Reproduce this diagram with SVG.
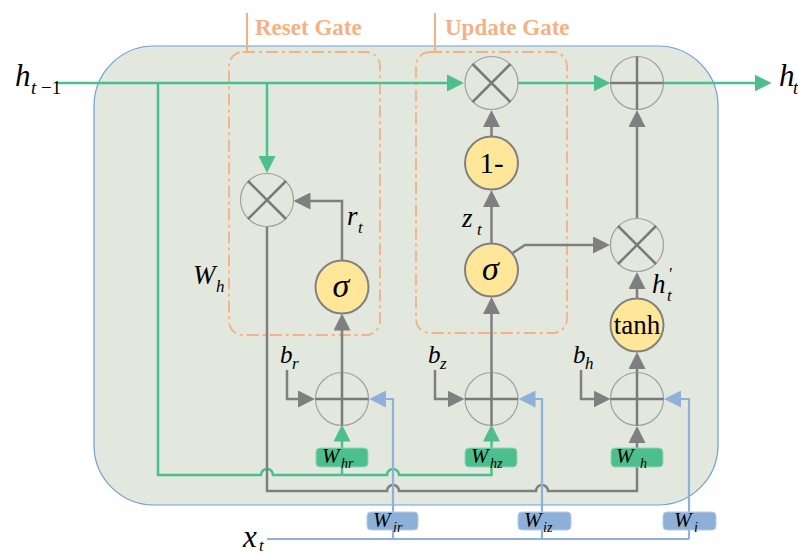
<svg xmlns="http://www.w3.org/2000/svg" width="798" height="554" viewBox="0 0 798 554">
<defs>
<style>
text{font-family:'Liberation Serif','DejaVu Serif',serif;fill:#000}
.i{font-style:italic}
.gl{fill:none;stroke:#4cbf8c;stroke-width:2.5}
.gy{fill:none;stroke:#7f7f7f;stroke-width:2.5}
.bl{fill:none;stroke:#8fb0d9;stroke-width:2.2}
.op{fill:none;stroke:#a0a0a0;stroke-width:1.2}
.x{stroke:#7a7a7a;stroke-width:2.5}
.fn{fill:#ffe699;stroke:#808080;stroke-width:2}
.gb{fill:none;stroke:#f4b183;stroke-width:1.8;stroke-dasharray:12 4 3 4}
.wg{fill:#4cbf8c;stroke:#93d6b3;stroke-width:1}
.wb{fill:#8eb0d8;stroke:#b4cbe6;stroke-width:1}
.gt{font-size:23px;font-weight:bold;fill:#f4b183}
.wl{font-size:21px;font-style:italic}
.ws{font-size:14px;font-style:italic}
</style>
<marker id="ag" markerUnits="userSpaceOnUse" markerWidth="17" markerHeight="17" refX="0.5" refY="8.5" orient="auto"><path d="M0,0 L17,8.5 L0,17 z" fill="#4cbf8c"/></marker>
<marker id="ay" markerUnits="userSpaceOnUse" markerWidth="17" markerHeight="17" refX="0.5" refY="8.5" orient="auto"><path d="M0,0 L17,8.5 L0,17 z" fill="#7f7f7f"/></marker>
<marker id="ab" markerUnits="userSpaceOnUse" markerWidth="17" markerHeight="17" refX="0.5" refY="8.5" orient="auto"><path d="M0,0 L17,8.5 L0,17 z" fill="#8fb0d9"/></marker>
</defs>

<rect x="0" y="0" width="798" height="554" fill="#ffffff"/>
<rect id="cell" x="94" y="46" width="624" height="459" rx="60" fill="#e3e8df" stroke="#6f9fd6" stroke-width="1.2"/>

<g id="reset-gate">
<rect class="gb" x="229" y="52" width="151" height="283" rx="14"/>
<line x1="247" y1="13" x2="247" y2="52" stroke="#f4b183" stroke-width="2"/>
<text class="gt" x="255" y="35">Reset Gate</text>
</g>
<g id="update-gate">
<rect class="gb" x="416" y="52" width="151" height="281" rx="14"/>
<line x1="435" y1="13" x2="435" y2="52" stroke="#f4b183" stroke-width="2"/>
<text class="gt" x="445" y="35">Update Gate</text>
</g>

<g id="connectors">
<path class="gl" d="M56,83 H447.5" marker-end="url(#ag)"/>
<path class="gl" d="M518,83 H594" marker-end="url(#ag)"/>
<path class="gl" d="M663.5,83 H755" marker-end="url(#ag)"/>
<path class="gl" d="M267,83 V156.5" marker-end="url(#ag)"/>
<path class="gl" d="M158,83 V475 H261 a6,6 0 0 1 12,0 H387 a6,6 0 0 1 12,0 H491.5 V467"/>
<path class="gl" d="M342,475 V467"/>
<path class="gl" d="M342,448 V441" marker-end="url(#ag)"/>
<path class="gl" d="M491.5,448 V441" marker-end="url(#ag)"/>
<path class="gy" d="M342,260.5 V201 H310" marker-end="url(#ay)"/>
<path class="gy" d="M342,372.5 V330" marker-end="url(#ay)"/>
<path class="gy" d="M267,226.5 V491 H387 a6,6 0 0 1 12,0 H536 a6,6 0 0 1 12,0 H637 V467"/>
<path class="gy" d="M287,370 V399 H298.5" marker-end="url(#ay)"/>
<path class="gy" d="M435,370 V399 H448" marker-end="url(#ay)"/>
<path class="gy" d="M491.5,372.5 V313.5" marker-end="url(#ay)"/>
<path class="gy" d="M491.5,243.5 V206.5" marker-end="url(#ay)"/>
<path class="gy" d="M491.5,136.5 V126.5" marker-end="url(#ay)"/>
<path class="gy" d="M511,254 L525,245 H593.5" marker-end="url(#ay)"/>
<path class="gy" d="M637,298.5 V288.5" marker-end="url(#ay)"/>
<path class="gy" d="M637,218.5 V126.5" marker-end="url(#ay)"/>
<path class="gy" d="M637,372.5 V368.5" marker-end="url(#ay)"/>
<path class="gy" d="M581,370 V399 H594" marker-end="url(#ay)"/>
<path class="gy" d="M637,448 V442.5" marker-end="url(#ay)"/>
<path class="bl" d="M267,539 H689"/>
<path class="bl" d="M393,539 V399 H385.5" marker-end="url(#ab)"/>
<path class="bl" d="M542,539 V399 H535" marker-end="url(#ab)"/>
<path class="bl" d="M689,539 V399 H680.5" marker-end="url(#ab)"/>
</g>

<g id="mul-reset">
<circle class="op" cx="267" cy="200" r="26.5"/>
<path class="x" d="M248,181 L286,219 M286,181 L248,219"/>
</g>
<g id="mul-update">
<circle class="op" cx="491.5" cy="83" r="26.5"/>
<path class="x" d="M472.5,64 L510.5,102 M510.5,64 L472.5,102"/>
</g>
<g id="mul-candidate">
<circle class="op" cx="637" cy="245" r="26.5"/>
<path class="x" d="M618,226 L656,264 M656,226 L618,264"/>
</g>
<g id="add-out">
<circle class="op" cx="637" cy="83" r="26.5"/>
<path class="x" d="M610.5,83 H663.5 M637,56.5 V109.5"/>
</g>
<g id="add-reset">
<circle class="op" cx="342" cy="399" r="26.5"/>
<path class="x" d="M315.5,399 H368.5 M342,372.5 V425.5"/>
</g>
<g id="add-update">
<circle class="op" cx="491.5" cy="399" r="26.5"/>
<path class="x" d="M465,399 H518 M491.5,372.5 V425.5"/>
</g>
<g id="add-candidate">
<circle class="op" cx="637" cy="399" r="26.5"/>
<path class="x" d="M610.5,399 H663.5 M637,372.5 V425.5"/>
</g>

<g id="sigma-reset">
<circle class="fn" cx="342" cy="287" r="26.5"/>
<text class="i" x="341" y="297" font-size="34" text-anchor="middle">σ</text>
</g>
<g id="sigma-update">
<circle class="fn" cx="491.5" cy="270" r="26.5"/>
<text class="i" x="490.5" y="280" font-size="34" text-anchor="middle">σ</text>
</g>
<g id="one-minus">
<circle class="fn" cx="491.5" cy="163" r="26.5"/>
<text x="491.5" y="173" font-size="29" text-anchor="middle">1-</text>
</g>
<g id="tanh">
<circle class="fn" cx="637" cy="325" r="26.5"/>
<text x="637" y="334" font-size="27" text-anchor="middle">tanh</text>
</g>

<g id="W_hr">
<rect class="wg" x="316" y="448" width="52" height="19" rx="4"/>
<text class="wl" x="322" y="463">W</text><text class="ws" x="341" y="468">hr</text>
</g>
<g id="W_hz">
<rect class="wg" x="465" y="448" width="52" height="19" rx="4"/>
<text class="wl" x="471" y="463">W</text><text class="ws" x="490" y="468">hz</text>
</g>
<g id="W_h-box">
<rect class="wg" x="611" y="448" width="52" height="19" rx="4"/>
<text class="wl" x="616" y="463">W</text><text class="ws" x="640" y="468">h</text>
</g>
<g id="W_ir">
<rect class="wb" x="367" y="512" width="51" height="18" rx="4"/>
<text class="wl" x="373" y="527">W</text><text class="ws" x="393" y="532">ir</text>
</g>
<g id="W_iz">
<rect class="wb" x="518" y="512" width="53" height="18" rx="4"/>
<text class="wl" x="524" y="527">W</text><text class="ws" x="543" y="532">iz</text>
</g>
<g id="W_i">
<rect class="wb" x="663" y="512" width="53" height="18" rx="4"/>
<text class="wl" x="674" y="527">W</text><text class="ws" x="694" y="532">i</text>
</g>

<g id="labels">
<text class="i" x="15" y="86" font-size="31">h</text>
<text x="31" y="94" font-size="19"><tspan font-style="italic">t</tspan> −1</text>
<text class="i" x="779" y="86" font-size="31">h</text>
<text class="i" x="793" y="94" font-size="18">t</text>
<text class="i" x="243" y="547" font-size="31">x</text>
<text class="i" x="259" y="551" font-size="17">t</text>
<text class="i" x="193" y="284" font-size="27">W</text>
<text class="i" x="216" y="292" font-size="17">h</text>
<text class="i" x="347" y="225" font-size="27">r</text>
<text class="i" x="358" y="233" font-size="17">t</text>
<text class="i" x="462" y="227" font-size="27">z</text>
<text class="i" x="477" y="235" font-size="17">t</text>
<text class="i" x="652" y="293" font-size="27">h</text>
<text class="i" x="668" y="279" font-size="17">'</text>
<text class="i" x="667" y="301" font-size="17">t</text>
<text class="i" x="280" y="363" font-size="25">b</text>
<text class="i" x="292" y="369" font-size="17">r</text>
<text class="i" x="428" y="363" font-size="25">b</text>
<text class="i" x="440" y="369" font-size="17">z</text>
<text class="i" x="573" y="363" font-size="25">b</text>
<text class="i" x="585" y="369" font-size="17">h</text>
</g>
</svg>
